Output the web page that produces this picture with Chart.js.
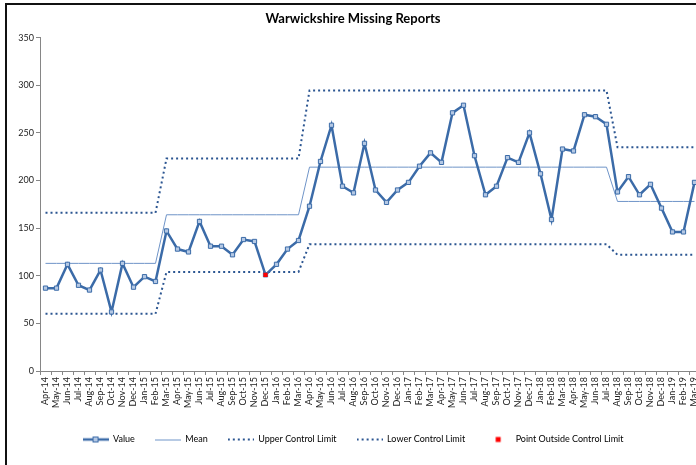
<!DOCTYPE html>
<html>
<head>
<meta charset="utf-8">
<script src="https://cdn.jsdelivr.net/npm/chart.js@4/dist/chart.umd.min.js"></script>
<style>
  html, body { margin: 0; padding: 0; background: #fff; }
  body { width: 696px; height: 465px; overflow: hidden; position: relative; }
  #frame { position: absolute; left: 5px; top: 3px; width: 720px; height: 480px; border: 2px solid #111; box-sizing: border-box; }
  #chart { position: absolute; left: 0; top: 0; }
</style>
</head>
<body>
<div id="frame"></div>
<canvas id="chart" width="720" height="454"></canvas>
<script>
const labels = [
  "Apr-14","May-14","Jun-14","Jul-14","Aug-14","Sep-14","Oct-14","Nov-14","Dec-14","Jan-15","Feb-15","Mar-15",
  "Apr-15","May-15","Jun-15","Jul-15","Aug-15","Sep-15","Oct-15","Nov-15","Dec-15","Jan-16","Feb-16","Mar-16",
  "Apr-16","May-16","Jun-16","Jul-16","Aug-16","Sep-16","Oct-16","Nov-16","Dec-16","Jan-17","Feb-17","Mar-17",
  "Apr-17","May-17","Jun-17","Jul-17","Aug-17","Sep-17","Oct-17","Nov-17","Dec-17","Jan-18","Feb-18","Mar-18",
  "Apr-18","May-18","Jun-18","Jul-18","Aug-18","Sep-18","Oct-18","Nov-18","Dec-18","Jan-19","Feb-19","Mar-19"
];

const values = [
  87, 87, 112, 90, 85, 106, 62, 113, 88, 99, 94,
  147, 128, 125, 157, 131, 131, 122, 138, 136, 101, 112, 128, 137,
  173, 220, 258, 194, 187, 239, 190, 177, 190, 198, 215, 229, 219, 271, 279, 226,
  185, 194, 224, 219, 250, 207, 159, 233, 231, 269, 267, 259,
  188, 204, 185, 196, 171, 146, 146, 198
];

// control chart phases (number of months in each, and the levels for that phase)
const phaseLengths = [11, 13, 28, 8];
const meanLevels = [113, 164, 214, 178];
const uclLevels = [166, 223, 294.5, 235];
const lclLevels = [60, 104, 133, 122];

function stepSeries(levels) {
  const out = [];
  phaseLengths.forEach((n, p) => { for (let k = 0; k < n; k++) out.push(levels[p]); });
  return out;
}

const mean = stepSeries(meanLevels);
const ucl = stepSeries(uclLevels);
const lcl = stepSeries(lclLevels);
const outside = values.map((v, i) => (v > ucl[i] || v < lcl[i]) ? v : null);

const blue = "#3b6ba8";
const markerFill = "#b4c8e4";
const meanColor = "#6f94c8";
const limitColor = "#2b5591";
const font = "Lato";

function icon(draw) {
  const c = document.createElement("canvas");
  c.width = 26;
  c.height = 10;
  draw(c.getContext("2d"));
  return c;
}

const legendIcons = [
  icon(g => {
    g.strokeStyle = blue; g.lineWidth = 2.5;
    g.beginPath(); g.moveTo(0, 5); g.lineTo(26, 5); g.stroke();
    g.fillStyle = markerFill; g.fillRect(10.5, 2.5, 5, 5);
    g.strokeStyle = blue; g.lineWidth = 1; g.strokeRect(10.5, 2.5, 5, 5);
  }),
  icon(g => {
    g.strokeStyle = meanColor; g.lineWidth = 1;
    g.beginPath(); g.moveTo(0, 5.5); g.lineTo(26, 5.5); g.stroke();
  }),
  icon(g => {
    g.strokeStyle = limitColor; g.lineWidth = 2; g.setLineDash([2, 3]);
    g.beginPath(); g.moveTo(0, 5); g.lineTo(26, 5); g.stroke();
  }),
  icon(g => {
    g.strokeStyle = limitColor; g.lineWidth = 2; g.setLineDash([2, 3]);
    g.beginPath(); g.moveTo(0, 5); g.lineTo(26, 5); g.stroke();
  }),
  icon(g => {
    g.fillStyle = "#ff0000"; g.fillRect(10.5, 2.5, 5, 5);
  })
];

new Chart(document.getElementById("chart"), {
  type: "line",
  data: {
    labels: labels,
    datasets: [
      {
        label: "Value",
        data: values,
        borderColor: blue,
        borderWidth: 2.5,
        pointStyle: "rect",
        pointRadius: 3,
        pointBackgroundColor: markerFill,
        pointBorderColor: blue,
        pointBorderWidth: 1,
        tension: 0
      },
      {
        label: "Mean",
        data: mean,
        borderColor: meanColor,
        borderWidth: 1,
        pointRadius: 0
      },
      {
        label: "Upper Control Limit",
        data: ucl,
        borderColor: limitColor,
        borderWidth: 2,
        borderDash: [2, 3],
        pointRadius: 0
      },
      {
        label: "Lower Control Limit",
        data: lcl,
        borderColor: limitColor,
        borderWidth: 2,
        borderDash: [2, 3],
        pointRadius: 0
      },
      {
        label: "Point Outside Control Limit",
        data: outside,
        showLine: false,
        pointStyle: "rect",
        pointRadius: 3,
        pointBackgroundColor: "#ff0000",
        pointBorderColor: "#ff0000",
        pointBorderWidth: 0,
        order: -1
      }
    ]
  },
  options: {
    responsive: false,
    animation: false,
    devicePixelRatio: 1,
    layout: { padding: { left: 6, right: 20, top: 5, bottom: 0 } },
    plugins: {
      title: {
        display: true,
        text: "Warwickshire Missing Reports",
        color: "#000",
        font: { family: font, size: 13, weight: "bold" },
        padding: { top: 6, bottom: 11 }
      },
      legend: {
        position: "bottom",
        labels: {
          usePointStyle: true,
          pointStyleWidth: 26,
          padding: 20,
          color: "#222",
          font: { family: font, size: 9 },
          generateLabels: chart => chart.data.datasets.map((ds, i) => ({
            text: ds.label,
            pointStyle: legendIcons[i],
            fillStyle: "transparent",
            strokeStyle: "transparent",
            lineWidth: 0,
            hidden: false,
            datasetIndex: i
          }))
        }
      },
      tooltip: { enabled: false }
    },
    scales: {
      x: {
        offset: true,
        grid: { offset: true, drawOnChartArea: false, tickLength: 4, color: "#868686" },
        border: { color: "#868686" },
        ticks: {
          autoSkip: false,
          minRotation: 90,
          maxRotation: 90,
          padding: 2,
          color: "#222",
          font: { family: font, size: 9 }
        },
        afterFit: scale => { scale.height = 44; }
      },
      y: {
        min: 0,
        max: 350,
        ticks: { stepSize: 50, padding: 2, color: "#222", font: { family: font, size: 9 } },
        grid: { drawOnChartArea: false, tickLength: 4, color: "#868686" },
        border: { color: "#868686" },
        afterFit: scale => { scale.width = 34; }
      }
    }
  }
});
</script>
</body>
</html>
